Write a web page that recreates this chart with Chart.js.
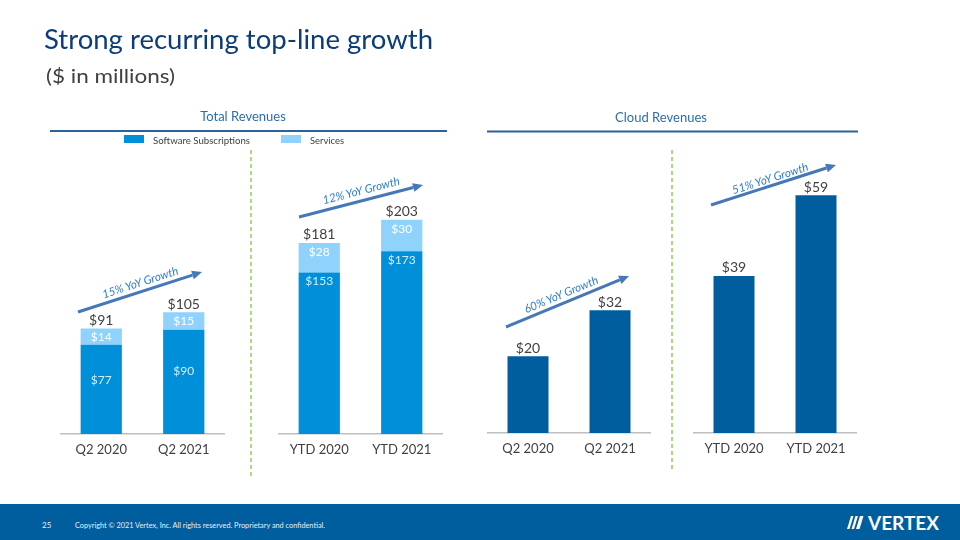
<!DOCTYPE html>
<html>
<head>
<meta charset="utf-8">
<script src="https://cdn.jsdelivr.net/npm/chart.js@4"></script>
<style>
  html,body{margin:0;padding:0;background:#fff;}
  #stage{position:relative;width:960px;height:540px;overflow:hidden;background:#fff;font-family:Lato,"Open Sans",sans-serif;}
  canvas.c{position:absolute;}
  #overlay{position:absolute;left:0;top:0;pointer-events:none;}
</style>
</head>
<body>
<div id="stage">
  <canvas class="c" id="c1" style="left:60px;top:150px;width:165px;height:320px"></canvas>
  <canvas class="c" id="c2" style="left:278px;top:150px;width:165px;height:320px"></canvas>
  <canvas class="c" id="c3" style="left:487px;top:149px;width:164px;height:320px"></canvas>
  <canvas class="c" id="c4" style="left:693px;top:149px;width:164px;height:320px"></canvas>
  <svg id="overlay" width="960" height="540" xmlns="http://www.w3.org/2000/svg">
    <g font-family="Lato, 'Open Sans', sans-serif">
      <text x="44" y="49" font-size="27" fill="#0c3d78" textLength="389" lengthAdjust="spacingAndGlyphs">Strong recurring top-line growth</text>
      <text x="46" y="83" font-size="20" fill="#404040" textLength="129" lengthAdjust="spacingAndGlyphs">($ in millions)</text>
      <text x="243" y="121" font-size="13" fill="#2a6eb0" text-anchor="middle">Total Revenues</text>
      <line x1="50" y1="131" x2="447" y2="131" stroke="#2d619c" stroke-width="2"/>
      <text x="661" y="122" font-size="13" fill="#2a6eb0" text-anchor="middle">Cloud Revenues</text>
      <line x1="487" y1="131.5" x2="858" y2="131.5" stroke="#2d619c" stroke-width="2"/>
      <rect x="124" y="135" width="20" height="8" fill="#0090d9"/>
      <text x="153" y="144" font-size="9.5" fill="#404040" textLength="97" lengthAdjust="spacingAndGlyphs">Software Subscriptions</text>
      <rect x="281" y="135" width="20" height="8" fill="#8fd3fd"/>
      <text x="310" y="144" font-size="9.5" fill="#404040" textLength="34" lengthAdjust="spacingAndGlyphs">Services</text>
      <line x1="251" y1="150" x2="251" y2="478" stroke="#92d050" stroke-width="1.5" stroke-dasharray="4 3"/>
      <line x1="672" y1="150" x2="672" y2="472" stroke="#92d050" stroke-width="1.5" stroke-dasharray="4 3"/>
      <g id="arrows"></g>
      <rect x="0" y="504" width="960" height="36" fill="#005e9e"/>
      <text x="42" y="528" font-size="8" fill="#e6eef6">25</text>
      <text x="75" y="528" font-size="7.5" fill="#e6eef6" textLength="250" lengthAdjust="spacingAndGlyphs">Copyright © 2021 Vertex, Inc. All rights reserved. Proprietary and confidential.</text>
      <g fill="#ffffff">
        <polygon points="847,529 849.5,529 853.5,516 851,516"/>
        <polygon points="851.5,529 854,529 858,516 855.5,516"/>
        <polygon points="856,529 859.5,529 863.5,516 860,516"/>
      </g>
      <text x="868" y="529.5" font-size="18" font-weight="bold" fill="#ffffff" textLength="71" lengthAdjust="spacingAndGlyphs">VERTEX</text>
    </g>
  </svg>
</div>
<script>
// ---- data ----
const q2Categories = ['Q2 2020', 'Q2 2021'];
const ytdCategories = ['YTD 2020', 'YTD 2021'];
const q2Software = [77, 90];
const q2Services = [14, 15];
const ytdSoftware = [153, 173];
const ytdServices = [28, 30];
const cloudQ2 = [20, 32];
const cloudYtd = [39, 59];
const growthLabels = ['15% YoY Growth', '12% YoY Growth', '60% YoY Growth', '51% YoY Growth'];

// ---- styles ----
const SOFT = '#0090d9', SERV = '#8fd3fd', CLOUD = '#005e9e';
const FONT = 'Lato, "Open Sans", sans-serif';

const valueLabels = {
  id: 'valueLabels',
  afterDatasetsDraw(chart, args, opts) {
    const ctx = chart.ctx;
    ctx.save();
    ctx.textAlign = 'center';
    ctx.textBaseline = 'middle';
    chart.data.datasets.forEach((ds, di) => {
      if (!ds.inside) return;
      const meta = chart.getDatasetMeta(di);
      meta.data.forEach((bar, i) => {
        const p = bar.getProps(['x', 'y', 'base'], true);
        const h = p.base - p.y;
        const ly = ds.insideFrac != null ? p.y + h * ds.insideFrac : p.y + 9;
        ctx.fillStyle = ds.labelColor;
        ctx.font = '12px ' + FONT;
        ctx.fillText('$' + ds.data[i], p.x, ly);
      });
    });
    const last = chart.getDatasetMeta(chart.data.datasets.length - 1);
    last.data.forEach((bar, i) => {
      const total = chart.data.datasets.reduce((s, d) => s + d.data[i], 0);
      const p = bar.getProps(['x', 'y'], true);
      ctx.fillStyle = '#404040';
      ctx.font = '14px ' + FONT;
      ctx.fillText('$' + total, p.x, p.y - 8);
    });
    ctx.restore();
  }
};

function makeChart(id, labels, datasets, yMax) {
  return new Chart(document.getElementById(id), {
    type: 'bar',
    data: { labels, datasets },
    options: {
      responsive: false,
      animation: false,
      devicePixelRatio: 1,
      layout: { padding: 0 },
      plugins: { legend: { display: false }, tooltip: { enabled: false } },
      datasets: { bar: { barPercentage: 0.5, categoryPercentage: 1 } },
      scales: {
        x: {
          stacked: true,
          grid: { display: false, drawTicks: false },
          border: { display: true, color: '#bfbfbf', width: 1.5 },
          ticks: { color: '#404040', font: { family: FONT, size: 13 }, padding: 8 },
          afterFit(scale) { scale.height = 36; }
        },
        y: { stacked: true, display: false, min: 0, max: yMax }
      }
    },
    plugins: [valueLabels]
  });
}

['c1','c2','c3','c4'].forEach(id => {
  const c = document.getElementById(id);
  c.width = parseInt(c.style.width); c.height = parseInt(c.style.height);
});

makeChart('c1', q2Categories, [
  { label: 'Software Subscriptions', data: q2Software, backgroundColor: SOFT, inside: true, insideFrac: 0.4, labelColor: '#d4ecfc' },
  { label: 'Services', data: q2Services, backgroundColor: SERV, inside: true, labelColor: '#ffffff' }
], 245);

makeChart('c2', ytdCategories, [
  { label: 'Software Subscriptions', data: ytdSoftware, backgroundColor: SOFT, inside: true, labelColor: '#d4ecfc' },
  { label: 'Services', data: ytdServices, backgroundColor: SERV, inside: true, labelColor: '#ffffff' }
], 269);

makeChart('c3', q2Categories, [
  { label: 'Cloud', data: cloudQ2, backgroundColor: CLOUD }
], 74);

makeChart('c4', ytdCategories, [
  { label: 'Cloud', data: cloudYtd, backgroundColor: CLOUD }
], 70.5);

// growth arrows (annotation layer)
const arrowSpecs = [
  { tail: [78, 312], tip: [202, 272], text: [140, 282] },
  { tail: [299, 217], tip: [423, 185], text: [361, 190] },
  { tail: [506, 327], tip: [629, 276], text: [561, 294] },
  { tail: [711, 205], tip: [836, 165], text: [770, 178] }
];
const NS = 'http://www.w3.org/2000/svg';
const g = document.getElementById('arrows');
arrowSpecs.forEach((a, i) => {
  const dx = a.tip[0] - a.tail[0], dy = a.tip[1] - a.tail[1];
  const len = Math.hypot(dx, dy), ux = dx / len, uy = dy / len;
  const hl = 10, hw = 4.5;
  const bx = a.tip[0] - ux * hl, by = a.tip[1] - uy * hl;
  const line = document.createElementNS(NS, 'line');
  line.setAttribute('x1', a.tail[0]); line.setAttribute('y1', a.tail[1]);
  line.setAttribute('x2', bx); line.setAttribute('y2', by);
  line.setAttribute('stroke', '#4677b8'); line.setAttribute('stroke-width', '3');
  g.appendChild(line);
  const head = document.createElementNS(NS, 'polygon');
  head.setAttribute('points', `${a.tip[0]},${a.tip[1]} ${bx - uy * hw},${by + ux * hw} ${bx + uy * hw},${by - ux * hw}`);
  head.setAttribute('fill', '#4677b8');
  g.appendChild(head);
  const ang = Math.atan2(dy, dx) * 180 / Math.PI;
  const t = document.createElementNS(NS, 'text');
  t.setAttribute('x', a.text[0]); t.setAttribute('y', a.text[1]);
  t.setAttribute('text-anchor', 'middle');
  t.setAttribute('dominant-baseline', 'central');
  t.setAttribute('font-size', '11.5');
  t.setAttribute('font-style', 'italic');
  t.setAttribute('fill', '#2f7fcf');
  t.setAttribute('transform', `rotate(${ang} ${a.text[0]} ${a.text[1]})`);
  t.textContent = growthLabels[i];
  g.appendChild(t);
});
</script>
</body>
</html>
